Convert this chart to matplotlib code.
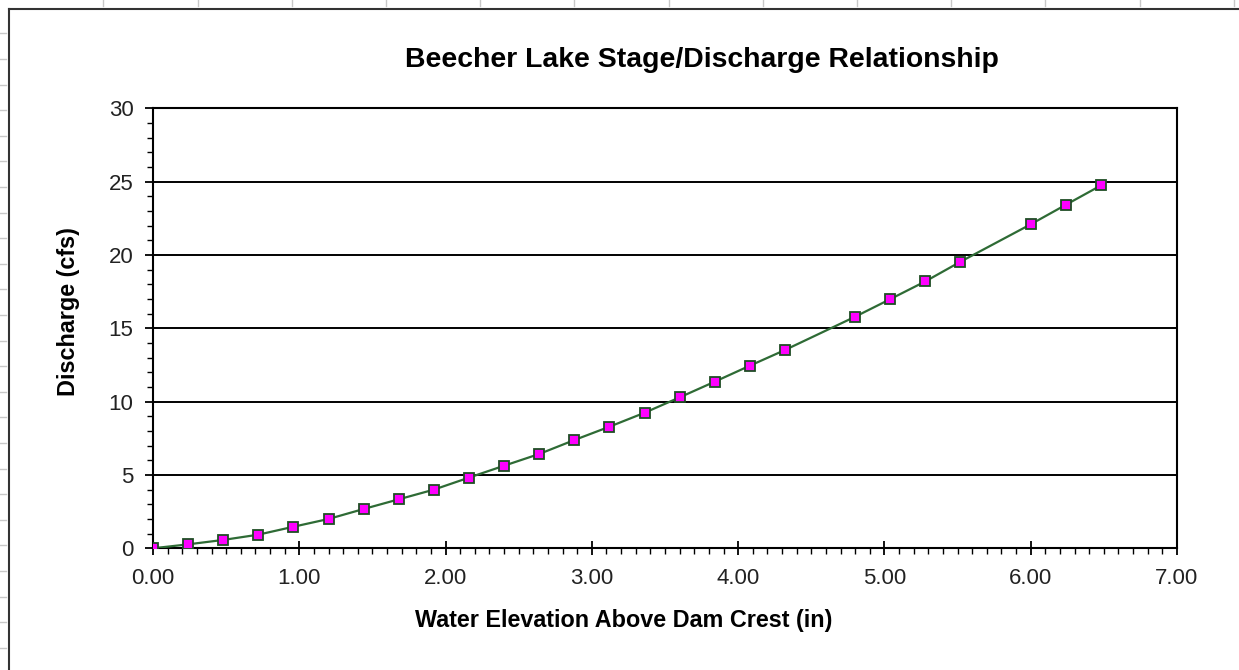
import numpy as np
import matplotlib.pyplot as plt
from matplotlib.lines import Line2D
from matplotlib.ticker import MultipleLocator, FormatStrFormatter

plt.rcParams['font.family'] = ['Liberation Sans', 'DejaVu Sans']

# stage (in) and discharge (cfs)
elevation = [0.00, 0.24, 0.48, 0.72, 0.96, 1.20, 1.44, 1.68, 1.92, 2.16,
             2.40, 2.64, 2.88, 3.12, 3.36, 3.60, 3.84, 4.08, 4.32,
             4.80, 5.04, 5.28, 5.52, 6.00, 6.24, 6.48]
discharge = [0.00, 0.27, 0.57, 0.93, 1.47, 2.00, 2.68, 3.34, 4.00, 4.82,
             5.63, 6.43, 7.38, 8.29, 9.24, 10.29, 11.36, 12.45, 13.52,
             15.79, 16.99, 18.20, 19.54, 22.09, 23.42, 24.74]

title = "Beecher Lake Stage/Discharge Relationship"
xlabel = "Water Elevation Above Dam Crest (in)"
ylabel = "Discharge (cfs)"

W, H = 1239, 670
fig = plt.figure(figsize=(W / 100, H / 100), dpi=100)
ax = fig.add_axes([153 / W, 1 - 548.3 / H, (1177 - 153) / W, (548.3 - 108.3) / H])

ax.plot(elevation, discharge, color='#2e6b35', lw=1.6, zorder=3)
ax.plot(elevation, discharge, ls='none', marker='s', ms=6.5,
        mfc='#ff00ff', mec='#1f4d24', mew=1.3, zorder=4)

ax.set_xlim(0, 7)
ax.set_ylim(0, 30)
ax.xaxis.set_major_locator(MultipleLocator(1))
ax.xaxis.set_minor_locator(MultipleLocator(0.1))
ax.xaxis.set_major_formatter(FormatStrFormatter('%.2f'))
ax.yaxis.set_major_locator(MultipleLocator(5))
ax.yaxis.set_minor_locator(MultipleLocator(1))
ax.grid(axis='y', which='major', color='black', lw=1.4)
ax.set_axisbelow(True)
for s in ax.spines.values():
    s.set_linewidth(1.5)

ax.tick_params(axis='x', which='major', direction='inout', length=10, width=1.3,
               labelsize=16, pad=9, labelcolor='#222222')
ax.tick_params(axis='x', which='minor', direction='out', length=4, width=1)
ax.tick_params(axis='y', which='major', direction='out', length=6, width=1.3,
               labelsize=16, pad=8, labelcolor='#222222')
ax.tick_params(axis='y', which='minor', direction='out', length=4, width=1)

fig.text(702 / W, 1 - 60 / H, title, ha='center', va='center',
         fontsize=20.4, fontweight='bold')
fig.text(624 / W, 1 - 621 / H, xlabel, ha='center', va='center',
         fontsize=16.8, fontweight='bold')
fig.text(69 / W, 1 - 312 / H, ylabel, ha='center', va='center',
         rotation=90, fontsize=16.8, fontweight='bold')

# spreadsheet frame with row/column marks
fig.add_artist(Line2D([9 / W, 9 / W], [0, 1 - 9 / H], color='#333333', lw=1.5))
fig.add_artist(Line2D([9 / W, 1], [1 - 9 / H, 1 - 9 / H], color='#333333', lw=1.5))
for px in np.arange(103.3, W, 94.2):
    fig.add_artist(Line2D([px / W, px / W], [1 - 6 / H, 1], color='#c8c8c8', lw=1))
for py in np.arange(33.3, H, 25.6):
    fig.add_artist(Line2D([0, 6 / W], [1 - py / H, 1 - py / H], color='#c8c8c8', lw=1))

fig.savefig('out.png', dpi=100)
